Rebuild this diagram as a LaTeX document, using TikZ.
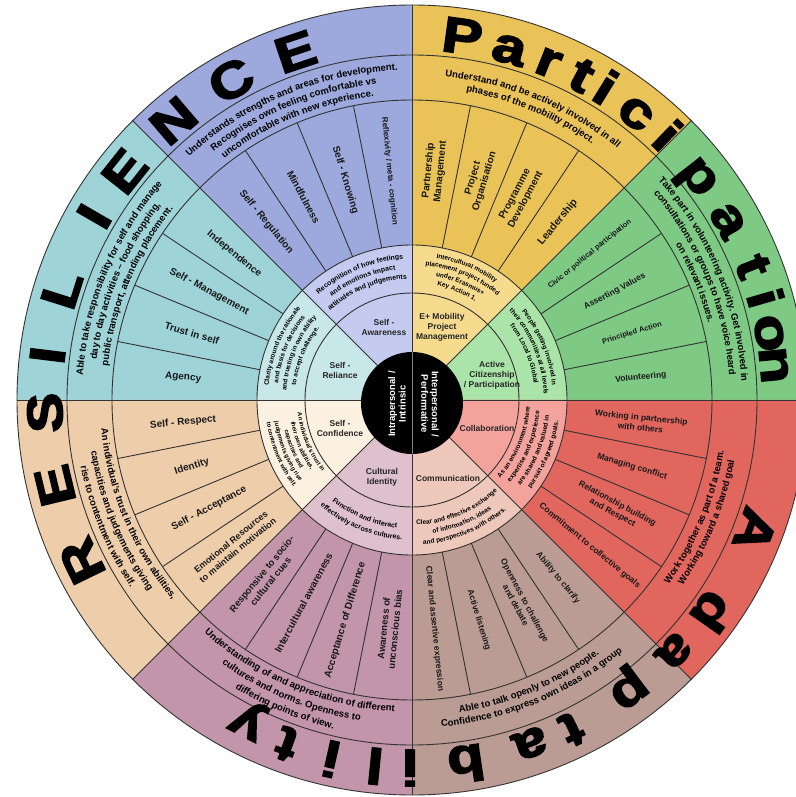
\documentclass[tikz,border=0pt]{standalone}
\usepackage{fontspec}
\setmainfont{Liberation Sans}
\newfontfamily\heavyfont[BoldFeatures={FakeBold=3}]{Liberation Sans}
\usetikzlibrary{decorations.text}

\definecolor{blueD}{HTML}{9DA9DC}
\definecolor{blueL}{HTML}{C5CBF0}
\definecolor{tealD}{HTML}{9ED3D7}
\definecolor{tealL}{HTML}{C8E7E8}
\definecolor{sandD}{HTML}{EECEAA}
\definecolor{sandL}{HTML}{FCF0E1}
\definecolor{mauveD}{HTML}{C295AA}
\definecolor{mauveL}{HTML}{DFC0CD}
\definecolor{taupeD}{HTML}{BA9C94}
\definecolor{taupeL}{HTML}{EEC8BA}
\definecolor{redD}{HTML}{E1665E}
\definecolor{redL}{HTML}{F3A29C}
\definecolor{greenD}{HTML}{7ECA85}
\definecolor{greenL}{HTML}{AAE4A9}
\definecolor{goldD}{HTML}{EAC358}
\definecolor{goldL}{HTML}{F6DB8E}

% one line of text on an arc: start, end, radius, size, text
\newcommand\arcline[5]{%
  \path[decorate, decoration={text along path, text align=center,
      text={|\fontsize{#4}{#4}\selectfont\bfseries|#5}}]
    (#1:#3) arc[start angle=#1, end angle=#2, radius=#3];}

\begin{document}
\begin{tikzpicture}[x=1pt, y=1pt,
    wline/.style={draw=black!80, line width=0.9pt},
    bigch/.style={font=\heavyfont\bfseries\fontsize{50}{50}\selectfont, anchor=base, inner sep=0pt, xscale=1.2},
    itm/.style={align=center, inner sep=1pt, text=black!90},
    hub/.style={font=\bfseries\fontsize{8.5}{10}\selectfont, align=center, text=black!85},
    mid/.style={font=\bfseries\fontsize{9.5}{10.5}\selectfont, align=center, text=white}]
            \useasboundingbox (-412,-397) rectangle (383,400);
            \fill[white] (-412,-397) rectangle (383,400);

            % sectors
            \foreach \s/\cd/\cl in {0/greenD/greenL, 45/goldD/goldL, 90/blueD/blueL, 135/tealD/tealL,
                180/sandD/sandL, 225/mauveD/mauveL, 270/taupeD/taupeL, 315/redD/redL} {
              \fill[\cd] (0,0) -- (\s:395) arc[start angle=\s, delta angle=45, radius=395] -- cycle;
              \fill[\cl] (0,0) -- (\s:155) arc[start angle=\s, delta angle=45, radius=155] -- cycle;
            }

            % rings and spokes
            \foreach \r in {395,345,300,155,107}
              \draw[wline] (0,0) circle[radius=\r];
            \foreach \a in {0,45,...,315}
              \draw[wline] (0,0) -- (\a:395);
            \foreach \k in {0,...,7}
              \foreach \j in {1,2,3}
                \draw[wline] ({\k*45+\j*11.25}:155) -- ({\k*45+\j*11.25}:300);

            % big letters
            \foreach \ch/\ang [count=\n] in {R/206,E/193.5,S/182,I/173,L/162.5,I/150,E/141.5,N/130.5,C/119.5,E/108.5}
              \node[rotate=\ang-90, bigch] (res\n) at (\ang:350) {\ch};
            \foreach \ch/\ang [count=\n] in {P/82.1,a/74.5,r/68,t/62.4,i/58.2,c/52,i/46,p/37.9,a/29.6,t/21.4,i/16.1,o/10.6,n/5.5}
              \node[rotate=\ang-90, bigch] (par\n) at (\ang:350) {\ch};
            \foreach \ch/\ang [count=\n] in {A/339.2,d/324.8,a/316.2,p/306.8,t/295.9,a/289,b/278.5,i/269.7,l/264.2,i/257.3,t/250,y/243}
              \node[rotate=\ang-90, bigch] (ada\n) at (\ang:350) {\ch};

            % outer descriptions
            \arcline{100}{35}{325}{9.5}{Understand and be actively involved in all}
            \arcline{100}{35}{313}{9.5}{phases of the mobility project.}
            \arcline{145}{80}{330}{9.5}{Understands strengths and areas for development.}
            \arcline{145}{80}{318}{9.5}{Recognises own feeling comfortable vs}
            \arcline{145}{80}{306}{9.5}{uncomfortable with new experience.}
            \arcline{190}{125}{330}{9.5}{Able to take responsibility for self and manage}
            \arcline{190}{125}{318}{9.5}{day to day activities – food shopping,}
            \arcline{190}{125}{306}{9.5}{public transport, attending placement.}
            \arcline{55}{-10}{330}{9.5}{Take part in volunteering activity. Get involved in}
            \arcline{55}{-10}{318}{9.5}{consultations or groups to have voice heard}
            \arcline{55}{-10}{306}{9.5}{on relevant issues.}
            \arcline{170}{235}{312}{9.5}{An individual's trust in their own abilities,}
            \arcline{170}{235}{325}{9.5}{capacities and judgements giving}
            \arcline{170}{235}{338}{9.5}{rise to contentment with self.}
            \arcline{215}{280}{312}{9.5}{Understanding of and appreciation of different}
            \arcline{215}{280}{325}{9.5}{cultures and norms. Openness to}
            \arcline{215}{280}{338}{9.5}{differing points of view.}
            \arcline{260}{325}{316}{9.5}{Able to talk openly to new people.}
            \arcline{260}{325}{328}{9.5}{Confidence to express own ideas in a group}
            \arcline{305}{370}{316}{9.5}{Work together as part of a team.}
            \arcline{305}{370}{328}{9.5}{Working toward a shared goal}

            % inner descriptions
            \arcline{100}{35}{144}{6.5}{Intercultural mobility}
            \arcline{100}{35}{135}{6.5}{placement project funded}
            \arcline{100}{35}{126}{6.5}{under Erasmus+}
            \arcline{100}{35}{117}{6.5}{Key Action 1.}
            \arcline{145}{80}{141}{7}{Recognition of how feelings}
            \arcline{145}{80}{131}{7}{and emotions impact}
            \arcline{145}{80}{121}{7}{attitudes and judgements}
            \arcline{190}{125}{144}{6.5}{Clarity around the rationale}
            \arcline{190}{125}{135}{6.5}{and basis for decisions}
            \arcline{190}{125}{126}{6.5}{and trusting in own ability}
            \arcline{190}{125}{117}{6.5}{to accept challenge.}
            \arcline{55}{-10}{141}{6.5}{People getting involved in}
            \arcline{55}{-10}{132}{6.5}{their communities at all levels}
            \arcline{55}{-10}{123}{6.5}{from Local to Global}
            \arcline{170}{235}{115}{6}{An individual's trust in}
            \arcline{170}{235}{123}{6}{their own abilities,}
            \arcline{170}{235}{131}{6}{capacities and}
            \arcline{170}{235}{139}{6}{judgements giving rise}
            \arcline{170}{235}{147}{6}{to contentment with self.}
            \arcline{215}{280}{129}{7}{Function and interact}
            \arcline{215}{280}{140}{7}{effectively across cultures.}
            \arcline{260}{325}{125}{6.5}{Clear and effective exchange}
            \arcline{260}{325}{135}{6.5}{of information, ideas}
            \arcline{260}{325}{145}{6.5}{and perspectives with others.}
            \arcline{305}{370}{118}{6.5}{As an environment where}
            \arcline{305}{370}{128}{6.5}{expertise and experience}
            \arcline{305}{370}{138}{6.5}{are shared and valued in}
            \arcline{305}{370}{148}{6.5}{pursuit of agreed goals.}

            % items
            \foreach \ang/\fs/\txt [count=\n] in {
                5.625/8.5/{Volunteering}, 16.875/7.5/{Principled Action},
                28.125/8.5/{Asserting Values}, 39.375/7.5/{Civic or political participation},
                50.625/10.5/{Leadership}, 61.875/10/{Programme\\Development},
                73.125/10/{Project\\Organisation}, 84.375/10/{Partnership\\Management},
                95.625/8/{Reflexivity / meta - cognition}, 106.875/10/{Self - Knowing},
                118.125/10/{Mindfulness}, 129.375/10/{Self - Regulation},
                140.625/10/{Independence}, 151.875/10/{Self - Management},
                163.125/10/{Trust in self}, 174.375/10/{Agency},
                185.625/10/{Self - Respect}, 196.875/10/{Identity},
                208.125/10/{Self - Acceptance}, 219.375/9/{Emotional Resources\\to maintain motivation},
                230.625/9.5/{Responsive to socio-\\cultural cues}, 241.875/10/{Intercultural awareness},
                253.125/10/{Acceptance of Difference}, 264.375/9.5/{Awareness of\\unconscious bias},
                275.625/8.5/{Clear and assertive expression}, 286.875/8.5/{Active listening},
                298.125/8.5/{Openness to challenge\\and debate}, 309.375/8.5/{Ability to clarify},
                320.625/8.5/{Commitment to collective goals}, 331.875/8.5/{Relationship building\\and Respect},
                343.125/8.5/{Managing conflict}, 354.375/8.5/{Working in partnership\\with others}} {
              \pgfmathsetmacro\rot{(\ang>90)*(\ang<270)*180+\ang}
              \pgfmathsetmacro\bs{1.2*\fs}
              \node[itm, rotate=\rot, font=\bfseries\fontsize{\fs}{\bs}\selectfont] (it\n) at (\ang:230) {\txt};
            }

            % inner names
            \node[hub] (aw) at (-28,73) {Self -\\Awareness};
            \node[hub] (rel) at (-72,30) {Self -\\Reliance};
            \node[hub] (conf) at (-72,-28) {Self -\\Confidence};
            \node[hub] (cul) at (-30,-77) {Cultural\\Identity};
            \node[hub] (com) at (36,-78) {Communication};
            \node[hub] (col) at (75,-28) {Collaboration};
            \node[hub] (act) at (80,25) {Active\\Citizenship\\/ Participation};
            \node[hub] (mob) at (30,73) {E+ Mobility\\Project\\Management};

            % centre
            \fill[black] (0,-3) circle[radius=51];
            \draw[gray, line width=1pt] (0,48) -- (0,-54);
            \node[mid, rotate=90] (intra) at (-15,-4) {Intrapersonal /\\Intrinsic};
            \node[mid, rotate=-90] (inter) at (18,-4) {Interpersonal /\\Performative};
        \end{tikzpicture}
\end{document}
